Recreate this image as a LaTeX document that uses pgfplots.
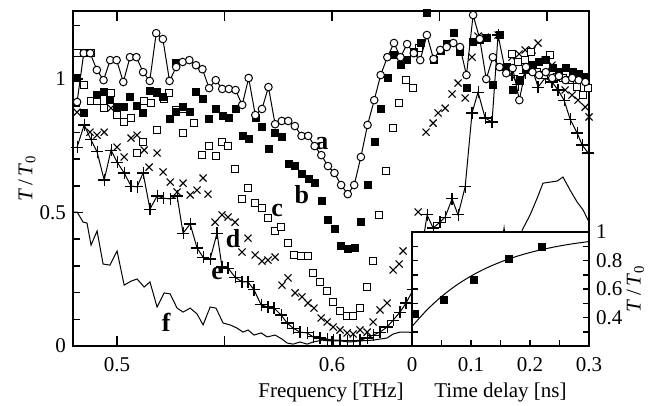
\documentclass[border=0pt]{standalone}
\usepackage{fontspec}
\setmainfont{Liberation Serif}
\usepackage{pgfplots}
\pgfplotsset{compat=1.18}
\pgfplotsset{/pgf/number format/assume math mode=true}
\begin{document}
\fontsize{21}{25}\selectfont
\begin{tikzpicture}
\path[use as bounding box] (-73pt,-59pt) rectangle (576pt,346pt);
\begin{axis}[name=main, at={(0pt,0pt)}, anchor=south west, scale only axis,
  width=516pt, height=335pt,
  xmin=0.4795, xmax=0.7195, ymin=0, ymax=1.255,
  axis line style={line width=1.8pt},
  tick align=inside, xtick pos=both, ytick pos=left,
  major tick length=10pt, minor tick length=7pt,
  every tick/.style={line width=1.5pt, black},
  xtick={0.5,0.55,0.6,0.65,0.7}, xticklabels={0.5,,0.6,,},
  ytick={0,0.5,1}, minor ytick={0.1,0.2,0.3,0.4,0.6,0.7,0.8,0.9,1.1,1.2},
  xticklabel style={yshift=-4pt},
  xlabel={Frequency [THz]},
  xlabel style={at={(axis description cs:0.5,-0.140)}, anchor=center},
  ylabel={\textit{T}\,/\,\textit{T}\textsubscript{0}},
  ylabel style={at={(axis description cs:-0.089,0.5)}, anchor=center},
]
% f: solid line
\addplot[black, line width=1pt] coordinates {
(0.4795,0.502)(0.4814,0.502)(0.4842,0.464)(0.4860,0.461)(0.4879,0.378)(0.4907,0.431)
(0.4935,0.307)(0.4967,0.303)(0.5000,0.356)(0.5033,0.228)(0.5065,0.243)(0.5093,0.251)
(0.5126,0.221)(0.5153,0.240)(0.5186,0.146)(0.5219,0.199)(0.5247,0.195)(0.5279,0.142)
(0.5307,0.127)(0.5340,0.142)(0.5372,0.120)(0.5400,0.079)(0.5433,0.146)(0.5460,0.142)
(0.5493,0.086)(0.5526,0.079)(0.5558,0.067)(0.5586,0.052)(0.5609,0.060)(0.5637,0.041)
(0.5670,0.049)(0.5698,0.034)(0.5735,0.041)(0.5767,0.026)(0.5791,0.011)(0.5819,0.007)
(0.5851,0.015)(0.5884,0.007)(0.5912,0.015)(0.5953,0.022)(0.5991,0.019)(0.6037,0.019)
(0.6084,0.015)(0.6130,0.019)(0.6191,0.022)(0.6256,0.030)(0.6284,0.045)(0.6316,0.052)
(0.6349,0.052)(0.6409,0.049)(0.6502,0.045)(0.6595,0.060)(0.6688,0.097)(0.6758,0.210)
(0.6800,0.442)(0.6828,0.247)(0.6856,0.172)(0.6884,0.434)(0.6921,0.491)(0.6954,0.554)
(0.6981,0.610)(0.7014,0.614)(0.7047,0.618)(0.7074,0.633)(0.7107,0.584)(0.7140,0.539)
(0.7168,0.509)(0.7195,0.464)};
% e: plus with line
\addplot[black, line width=1pt, mark=+, mark size=6pt, mark options={line width=1.1pt}] coordinates {
(0.4814,0.745)(0.4847,0.828)(0.4879,0.772)(0.4907,0.727)(0.4940,0.622)(0.4972,0.734)
(0.5000,0.689)(0.5033,0.648)(0.5065,0.599)(0.5093,0.596)(0.5121,0.648)(0.5153,0.513)
(0.5186,0.562)(0.5214,0.554)(0.5247,0.551)(0.5279,0.562)(0.5307,0.423)(0.5340,0.457)
(0.5372,0.367)(0.5400,0.333)(0.5433,0.326)(0.5465,0.423)(0.5488,0.296)(0.5516,0.292)
(0.5549,0.258)(0.5581,0.240)(0.5609,0.240)(0.5637,0.210)(0.5670,0.154)(0.5702,0.146)
(0.5730,0.142)(0.5763,0.116)(0.5791,0.086)(0.5819,0.067)(0.5851,0.052)(0.5884,0.049)
(0.5912,0.034)(0.5944,0.030)(0.5977,0.026)(0.6005,0.022)(0.6037,0.022)(0.6070,0.019)
(0.6098,0.019)(0.6130,0.022)(0.6163,0.030)(0.6191,0.041)(0.6223,0.052)(0.6256,0.071)
(0.6284,0.097)(0.6316,0.127)(0.6344,0.161)(0.6377,0.210)(0.6409,0.322)(0.6442,0.491)
(0.6470,0.442)(0.6502,0.464)(0.6526,0.483)(0.6558,0.551)(0.6586,0.491)(0.6619,0.596)
(0.6651,0.873)(0.6679,0.951)(0.6712,0.854)(0.6744,0.839)(0.6772,1.165)(0.6805,1.034)
(0.6837,1.015)(0.6865,0.978)(0.6898,1.022)(0.6930,1.041)(0.6958,0.970)(0.6991,1.004)
(0.7023,0.989)(0.7051,0.959)(0.7079,0.921)(0.7107,0.850)(0.7140,0.798)(0.7163,0.753)
(0.7191,0.723)};
% d: crosses
\addplot[only marks, mark=x, mark size=5pt, mark options={line width=1.1pt, black}] coordinates {
(0.4814,0.876)(0.4874,0.801)(0.4907,0.790)(0.4940,0.801)(0.4972,0.891)(0.5000,0.745)
(0.5033,0.708)(0.5065,0.779)(0.5093,0.790)(0.5126,0.734)(0.5149,0.670)(0.5186,0.723)
(0.5214,0.652)(0.5247,0.614)(0.5279,0.577)(0.5307,0.610)(0.5340,0.566)(0.5372,0.584)
(0.5400,0.629)(0.5423,0.569)(0.5456,0.464)(0.5488,0.491)(0.5516,0.483)(0.5549,0.464)
(0.5581,0.352)(0.5609,0.404)(0.5642,0.341)(0.5674,0.318)(0.5702,0.322)(0.5735,0.333)
(0.5767,0.228)(0.5795,0.255)(0.5828,0.199)(0.5860,0.184)(0.5888,0.161)(0.5916,0.142)
(0.5949,0.105)(0.5977,0.090)(0.6005,0.071)(0.6037,0.060)(0.6070,0.049)(0.6098,0.045)
(0.6130,0.060)(0.6163,0.052)(0.6191,0.090)(0.6223,0.135)(0.6256,0.161)(0.6284,0.285)
(0.6312,0.307)(0.6330,0.356)(0.6400,0.502)(0.6437,0.801)(0.6470,0.835)(0.6493,0.873)
(0.6526,0.891)(0.6558,0.944)(0.6586,0.985)(0.6619,0.929)(0.6651,1.082)(0.6679,1.161)
(0.6712,1.157)(0.6772,1.165)(0.6837,1.082)(0.6870,1.094)(0.6898,1.109)(0.6930,1.109)
(0.6958,1.135)(0.6991,1.071)(0.7023,1.052)(0.7051,1.007)(0.7084,0.959)(0.7116,0.940)
(0.7144,0.921)(0.7177,0.895)(0.7195,0.858)};
% c: open squares
\addplot[only marks, mark=square*, mark size=3.5pt, mark options={line width=1pt, draw=black, fill=white}] coordinates {
(0.4814,1.097)(0.4847,1.097)(0.4879,1.097)(0.4847,0.978)(0.4879,0.918)(0.4907,0.918)
(0.4940,0.891)(0.4972,0.948)(0.5000,0.865)(0.5033,0.839)(0.5065,0.854)(0.5093,0.723)
(0.5126,0.918)(0.5121,0.764)(0.5158,0.910)(0.5186,0.951)(0.5186,0.809)(0.5219,0.925)
(0.5242,0.948)(0.5274,0.884)(0.5307,0.888)(0.5307,0.798)(0.5358,0.835)(0.5395,0.715)
(0.5428,0.749)(0.5460,0.712)(0.5488,0.764)(0.5516,0.749)(0.5549,0.663)(0.5581,0.551)
(0.5609,0.592)(0.5642,0.536)(0.5674,0.517)(0.5702,0.479)(0.5735,0.431)(0.5763,0.446)
(0.5795,0.386)(0.5823,0.341)(0.5856,0.337)(0.5888,0.337)(0.5912,0.273)(0.5944,0.240)
(0.5977,0.206)(0.6005,0.165)(0.6037,0.131)(0.6070,0.112)(0.6098,0.112)(0.6130,0.142)
(0.6163,0.221)(0.6191,0.318)(0.6219,0.491)(0.6251,0.655)(0.6284,0.816)(0.6312,0.910)
(0.6344,0.996)(0.6377,0.966)(0.6405,1.116)
(0.6837,1.094)(0.6865,1.064)(0.6898,1.071)(0.6926,1.101)(0.6954,1.026)(0.6986,1.015)
(0.7014,1.090)(0.7047,1.007)(0.7074,1.004)(0.7107,0.996)(0.7140,0.970)(0.7168,0.940)
(0.7191,0.966)};
% b: filled squares
\addplot[only marks, mark=square*, mark size=3.5pt, mark options={black}] coordinates {
(0.4814,1.004)(0.4845,0.873)(0.4906,0.940)(0.4937,0.951)(0.4968,0.921)(0.4998,0.895)
(0.5029,0.895)(0.5060,0.933)(0.5090,0.899)(0.5121,0.873)(0.5152,0.955)(0.5182,0.948)
(0.5213,0.933)(0.5244,0.850)(0.5275,1.060)(0.5275,0.876)(0.5305,0.895)(0.5336,0.876)
(0.5367,0.951)(0.5397,0.925)(0.5428,0.850)(0.5459,0.888)(0.5489,0.861)(0.5520,0.854)
(0.5551,0.888)(0.5582,0.787)(0.5612,0.776)(0.5643,0.854)(0.5674,0.820)(0.5704,0.738)
(0.5735,0.798)(0.5766,0.783)(0.5796,0.682)(0.5827,0.674)(0.5858,0.644)(0.5889,0.625)
(0.5919,0.610)(0.5950,0.543)(0.5981,0.472)(0.6011,0.438)(0.6042,0.375)(0.6073,0.363)
(0.6103,0.367)(0.6134,0.465)(0.6165,0.603)(0.6196,0.764)(0.6226,0.888)(0.6257,1.004)
(0.6288,1.090)(0.6318,1.052)(0.6349,1.071)(0.6380,1.101)(0.6410,1.135)(0.6441,1.247)
(0.6472,1.071)(0.6503,1.105)(0.6533,1.131)(0.6564,1.172)(0.6595,1.101)(0.6625,0.966)
(0.6656,1.139)(0.6687,1.146)(0.6717,1.154)(0.6748,0.978)(0.6779,1.165)(0.6810,1.045)
(0.6840,0.959)(0.6871,0.996)(0.6902,1.034)(0.6932,1.052)(0.6963,1.064)(0.6994,1.071)
(0.7024,1.041)(0.7055,1.026)(0.7086,1.041)(0.7117,1.026)(0.7147,1.019)(0.7178,1.007)};
% a: open circles with line
\addplot[black, line width=1pt, mark=*, mark size=3.8pt, mark options={line width=1pt, draw=black, fill=white}] coordinates {
(0.4814,0.914)(0.4845,1.097)(0.4875,1.097)(0.4906,1.034)(0.4937,0.996)(0.4968,1.071)
(0.4998,1.071)(0.5029,0.989)(0.5060,1.082)(0.5090,1.082)(0.5121,1.026)(0.5152,0.993)
(0.5182,1.172)(0.5213,1.150)(0.5244,0.993)(0.5275,1.045)(0.5305,1.064)(0.5336,1.071)
(0.5367,1.052)(0.5397,1.037)(0.5428,0.966)(0.5459,0.996)(0.5489,0.963)(0.5520,0.963)
(0.5551,0.959)(0.5582,0.903)(0.5612,1.004)(0.5643,0.865)(0.5674,0.888)(0.5704,0.970)
(0.5735,0.831)(0.5766,0.843)(0.5796,0.843)(0.5827,0.824)(0.5858,0.787)(0.5889,0.787)
(0.5919,0.749)(0.5950,0.715)(0.5981,0.674)(0.6011,0.648)(0.6042,0.603)(0.6073,0.569)
(0.6103,0.603)(0.6134,0.708)(0.6165,0.828)(0.6196,0.921)(0.6226,1.015)(0.6257,1.082)
(0.6288,1.135)(0.6318,1.082)(0.6349,1.131)(0.6380,1.097)(0.6410,1.071)(0.6441,1.165)
(0.6472,1.075)(0.6503,1.109)(0.6533,1.120)(0.6564,1.135)(0.6595,1.120)(0.6625,1.015)
(0.6656,1.240)(0.6687,1.150)(0.6717,1.000)(0.6748,1.082)(0.6779,1.045)(0.6810,1.022)
(0.6840,1.041)(0.6871,0.921)(0.6902,1.045)(0.6932,1.026)(0.6963,1.015)(0.6994,1.026)
(0.7024,1.004)(0.7055,1.011)(0.7086,0.996)(0.7117,1.004)(0.7147,0.996)(0.7178,0.989)};
\begin{scope}[font=\fontsize{26}{29}\selectfont\bfseries]
\node at (axis cs:0.5953,0.760) {a};
\node at (axis cs:0.5860,0.566) {b};
\node at (axis cs:0.5744,0.509) {c};
\node at (axis cs:0.5540,0.404) {d};
\node at (axis cs:0.5465,0.273) {e};
\node at (axis cs:0.5228,0.090) {f};
\end{scope}
\end{axis}
\begin{axis}[name=inset, at={(339pt,0pt)}, anchor=south west, scale only axis,
  width=177pt, height=114pt,
  xmin=0, xmax=0.3, ymin=0.2, ymax=1,
  axis background/.style={fill=white},
  axis line style={line width=1.8pt},
  tick align=inside, xtick pos=left, ytick pos=both, yticklabel pos=right,
  major tick length=6pt, minor tick length=6pt,
  every tick/.style={line width=1.5pt, black},
  xtick={0,0.1,0.2,0.3}, minor xtick={0.05,0.15,0.25},
  ytick={0.4,0.6,0.8,1}, minor ytick={0.3,0.5,0.7,0.9},
  xticklabel style={/pgf/number format/fixed, yshift=-4pt},
  yticklabel style={/pgf/number format/fixed},
  xlabel={Time delay [ns]},
  xlabel style={at={(axis description cs:0.5,-0.404)}, anchor=center},
  ylabel={\textit{T}\,/\,\textit{T}\textsubscript{0}},
  ylabel style={at={(axis description cs:1.262,0.5)}, anchor=center},
]
\addplot[black, line width=1pt, smooth] coordinates {
(0,0.337)(0.025,0.452)(0.05,0.547)(0.075,0.626)(0.1,0.691)(0.125,0.745)(0.15,0.789)
(0.175,0.826)(0.2,0.856)(0.225,0.881)(0.25,0.902)(0.275,0.919)(0.3,0.933)};
\addplot[only marks, mark=square*, mark size=3.5pt, mark options={black}] coordinates {
(0.005,0.428)(0.053,0.528)(0.104,0.662)(0.164,0.814)(0.220,0.896)};
\end{axis}
\end{tikzpicture}
\end{document}
